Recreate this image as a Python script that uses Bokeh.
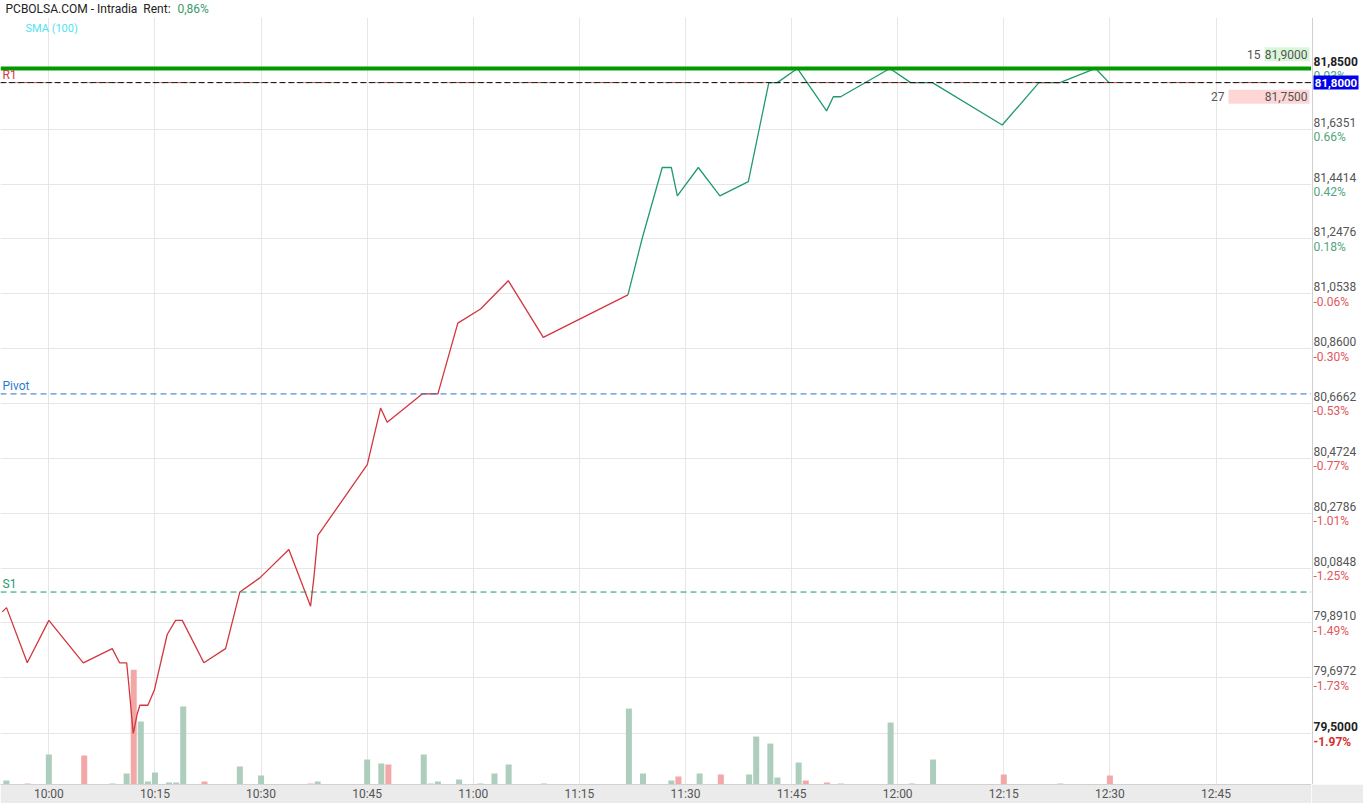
import pandas as pd
from bokeh.plotting import figure
from bokeh.layouts import column, row
from bokeh.models import (Range1d, FixedTicker, DatetimeTickFormatter, Label, Span,
                          BoxAnnotation, ColumnDataSource)
from bokeh.embed import file_html
from bokeh.resources import INLINE

DAY = "2024-01-15 "

# ---------------- data ----------------
price_times = ["09:53:25", "09:54:01", "09:56:57", "10:00:00", "10:04:52", "10:08:58", "10:10:00",
               "10:11:00", "10:11:19", "10:11:47", "10:11:56", "10:12:30", "10:12:52", "10:14:00",
               "10:14:56", "10:16:44", "10:17:55", "10:18:52", "10:21:55", "10:24:59", "10:27:00",
               "10:29:50", "10:33:56", "10:37:00", "10:37:28", "10:38:02", "10:45:01", "10:46:54",
               "10:47:50", "10:52:47", "10:55:00", "10:57:49", "11:01:02", "11:04:57", "11:09:54",
               "11:21:52",
               "11:23:53", "11:26:43", "11:28:00", "11:28:51", "11:31:49", "11:34:52", "11:38:53",
               "11:41:47", "11:42:59", "11:45:49", "11:49:57", "11:50:54", "11:51:56", "11:58:54",
               "12:01:50", "12:04:54", "12:14:47", "12:19:58", "12:22:56", "12:27:59", "12:29:52"]
price_values = [79.93, 79.945, 79.75, 79.90, 79.75, 79.80, 79.75,
                79.75, 79.67, 79.54, 79.50, 79.57, 79.60, 79.60,
                79.655, 79.85, 79.90, 79.90, 79.75, 79.80, 80.00,
                80.05, 80.15, 79.95, 80.05, 80.20, 80.45, 80.65,
                80.60, 80.70, 80.70, 80.95, 81.00, 81.10, 80.90,
                81.05,
                81.25, 81.50, 81.50, 81.40, 81.50, 81.40, 81.45,
                81.80, 81.80, 81.85, 81.70, 81.75, 81.75, 81.85,
                81.80, 81.80, 81.65, 81.80, 81.80, 81.85, 81.80]
split_index = 35  # last point of the red (below previous close) stretch

vol_times = ["09:54", "09:57", "10:00", "10:05", "10:09", "10:11", "10:12", "10:13", "10:14", "10:15",
             "10:17", "10:18", "10:19", "10:22", "10:27", "10:30", "10:37", "10:38", "10:45", "10:47",
             "10:48", "10:53", "10:54", "10:55", "10:58", "11:01", "11:03", "11:05", "11:10", "11:22",
             "11:24", "11:28", "11:29", "11:32", "11:35", "11:39", "11:40", "11:42", "11:43", "11:46",
             "11:47", "11:50", "11:52", "11:59", "12:02", "12:05", "12:15", "12:23", "12:30"]
vol_values = [80, 20, 600, 580, 20, 220, 2300, 1260, 60, 240,
              40, 40, 1560, 60, 360, 180, 20, 60, 500, 420,
              400, 600, 20, 60, 100, 20, 220, 400, 20, 1520,
              220, 80, 160, 220, 200, 200, 960, 820, 140, 440,
              80, 40, 20, 1240, 20, 500, 200, 20, 180]
vol_up = [1, 0, 1, 0, 1, 1, 0, 1, 1, 1,
          1, 1, 1, 0, 1, 1, 0, 1, 1, 1,
          0, 1, 1, 1, 1, 1, 1, 1, 0, 1,
          1, 1, 0, 1, 0, 1, 1, 1, 1, 1,
          0, 0, 1, 1, 0, 1, 0, 1, 0]

prev_close = 81.10
day_high = 81.85
last_price = 81.80
last_label = "81,8000"
r1_level = 81.80
pivot_level = 80.70
s1_level = 80.00
ask_price, ask_qty, ask_label = 81.90, 15, "81,9000"
bid_price, bid_qty, bid_label = 81.75, 27, "81,7500"

tick_prices = [79.5, 79.6972, 79.891, 80.0848, 80.2786, 80.4724, 80.6662,
               80.86, 81.0538, 81.2476, 81.4414, 81.6351, 81.85]
tick_price_labels = ["79,5000", "79,6972", "79,8910", "80,0848", "80,2786", "80,4724", "80,6662",
                     "80,8600", "81,0538", "81,2476", "81,4414", "81,6351", "81,8500"]
tick_pct_labels = ["-1.97%", "-1.73%", "-1.49%", "-1.25%", "-1.01%", "-0.77%", "-0.53%",
                   "-0.30%", "-0.06%", "0.18%", "0.42%", "0.66%", "0.93%"]
x_tick_labels = ["10:00", "10:15", "10:30", "10:45", "11:00", "11:15",
                 "11:30", "11:45", "12:00", "12:15", "12:30", "12:45"]


def to_ms(t):
    return pd.Timestamp(DAY + t).value / 1e6


# ---------------- layout ----------------
TOTAL_W, TOTAL_H = 1363, 803
HEAD_H = 17
AXIS_W = 52
BAND_H = 18
MAIN_W = TOTAL_W - AXIS_W
MAIN_H = TOTAL_H - HEAD_H
FRAME_H = MAIN_H - BAND_H

x_start, x_end = to_ms("09:53:10"), to_ms("12:58:30")
y_range = Range1d(79.32, 82.03)
ms_per_px = (x_end - x_start) / MAIN_W
pr_per_px = (y_range.end - y_range.start) / FRAME_H

FONT = "Roboto"
RED = "#d3363d"
GREEN = "#1f9a6e"
GRID = "#e6e6e6"
BAND = "#ebebeb"

# ---------- main chart ----------
p = figure(width=MAIN_W, height=MAIN_H, x_axis_type="datetime",
           x_range=Range1d(x_start, x_end), y_range=y_range,
           output_backend="svg", toolbar_location=None,
           y_axis_location="right",
           min_border_left=0, min_border_right=0,
           min_border_top=0, min_border_bottom=BAND_H)
p.outline_line_color = None
p.background_fill_color = "white"
p.border_fill_color = BAND
p.yaxis.visible = False

p.xgrid.ticker = FixedTicker(ticks=[to_ms(t) for t in x_tick_labels])
p.ygrid.ticker = FixedTicker(ticks=tick_prices)
p.xgrid.grid_line_color = GRID
p.ygrid.grid_line_color = GRID

xa = p.xaxis[0]
xa.ticker = FixedTicker(ticks=[to_ms(t) for t in x_tick_labels])
xa.formatter = DatetimeTickFormatter(minutes="%H:%M", hourmin="%H:%M", hours="%H:%M",
                                     minsec="%H:%M", seconds="%H:%M", days="%H:%M")
xa.axis_line_color = "#d2d2d2"
xa.major_tick_out = 0
xa.major_tick_in = 0
xa.minor_tick_out = 0
xa.minor_tick_in = 0
xa.major_label_text_color = "#555555"
xa.major_label_text_font = FONT
xa.major_label_text_font_size = "12px"
xa.major_label_standoff = 2

# volume on its own scale
p.extra_y_ranges = {"vol": Range1d(0, 20 * 768)}
vsrc = ColumnDataSource(dict(
    x=[pd.Timestamp(DAY + t) for t in vol_times],
    top=vol_values,
    color=["#adcdbd" if u else "#f3a8a8" for u in vol_up],
))
p.vbar(x="x", top="top", bottom=0, width=51000, color="color", source=vsrc,
       y_range_name="vol", line_color=None)

# price line
times_dt = [pd.Timestamp(DAY + t) for t in price_times]
p.line(times_dt[:split_index + 1], price_values[:split_index + 1], line_color=RED, line_width=1.3)
p.line(times_dt[split_index:], price_values[split_index:], line_color=GREEN, line_width=1.3)

# reference levels
p.add_layout(Span(location=s1_level, dimension="width", line_color="#139a66",
                  line_dash="6 4", line_width=1))
p.add_layout(Span(location=pivot_level, dimension="width", line_color="#2b6fc9",
                  line_dash="6 4", line_width=1))
p.add_layout(Span(location=r1_level, dimension="width", line_color="#d9363e",
                  line_dash="4 4", line_width=1))
p.add_layout(Span(location=last_price, dimension="width", line_color="#111111",
                  line_dash="6 3", line_width=1))
p.add_layout(Span(location=day_high, dimension="width", line_color="#009900", line_width=4))

for txt, lvl, col in [("R1", r1_level, "#d9363e"), ("Pivot", pivot_level, "#2f7ad0"),
                      ("S1", s1_level, "#1f9a6e")]:
    p.add_layout(Label(x=x_start, y=lvl, x_offset=2, y_offset=8, text=txt, text_color=col,
                       text_font=FONT, text_font_size="12px", text_align="left",
                       text_baseline="middle"))

# order book boxes
for price, qty, lab, fill in [(ask_price, ask_qty, ask_label, "#d9f6d9"),
                              (bid_price, bid_qty, bid_label, "#fdd6d6")]:
    wpx = qty * 3.0
    p.add_layout(BoxAnnotation(left=x_end - (wpx + 2) * ms_per_px, right=x_end - 2 * ms_per_px,
                               bottom=price - 7 * pr_per_px, top=price + 7 * pr_per_px,
                               fill_color=fill, fill_alpha=1.0, line_color=None))
    p.add_layout(Label(x=x_end, y=price, x_offset=-4, text=lab, text_color="#555555",
                       text_font=FONT, text_font_size="12px", text_align="right",
                       text_baseline="middle"))
    p.add_layout(Label(x=x_end, y=price, x_offset=-(wpx + 6), text=str(qty), text_color="#555555",
                       text_font=FONT, text_font_size="12px", text_align="right",
                       text_baseline="middle"))

p.add_layout(Label(x=x_start, y=y_range.end, x_offset=25, y_offset=-11, text="SMA (100)",
                   text_color="#4fe3f0", text_font=FONT, text_font_size="11px",
                   text_align="left", text_baseline="middle"))

# ---------- right price scale ----------
r = figure(width=AXIS_W, height=MAIN_H, x_range=Range1d(-1, AXIS_W - 1), y_range=y_range,
           output_backend="svg", toolbar_location=None,
           x_axis_location=None, y_axis_location=None,
           min_border_left=0, min_border_right=0, min_border_top=0, min_border_bottom=BAND_H)
r.outline_line_color = None
r.grid.visible = False
r.background_fill_color = "white"
r.border_fill_color = BAND
r.add_layout(Span(location=0, dimension="height", line_color="#d0d0d0", line_width=1))

n = len(tick_prices)
for i, (tv, pl, pc) in enumerate(zip(tick_prices, tick_price_labels, tick_pct_labels)):
    extreme = (i == 0 or i == n - 1)
    pct_col = "#4fa57c" if not pc.startswith("-") else "#e0575d"
    if i == 0:
        pct_col = "#d32f2f"
    r.add_layout(Label(x=1, y=tv, x_offset=0, y_offset=7, text=pl,
                       text_color="#222222" if extreme else "#555555",
                       text_font=FONT, text_font_size="12px",
                       text_font_style="bold" if extreme else "normal",
                       text_align="left", text_baseline="middle"))
    r.add_layout(Label(x=1, y=tv, x_offset=0, y_offset=-8, text=pc, text_color=pct_col,
                       text_font=FONT, text_font_size="12px",
                       text_font_style="bold" if i == 0 else "normal",
                       text_align="left", text_baseline="middle"))

# last price tag
r.add_layout(BoxAnnotation(left=1, right=46, bottom=last_price - 7 * pr_per_px,
                           top=last_price + 7 * pr_per_px, fill_color="#0000ee",
                           fill_alpha=1.0, line_color=None))
r.add_layout(Label(x=23.5, y=last_price, text=last_label, text_color="white",
                   text_font=FONT, text_font_size="11.5px", text_font_style="bold",
                   text_align="center", text_baseline="middle"))

# ---------- header ----------
h = figure(width=TOTAL_W, height=HEAD_H, x_range=Range1d(0, TOTAL_W), y_range=Range1d(0, HEAD_H),
           output_backend="svg", toolbar_location=None,
           x_axis_location=None, y_axis_location=None,
           min_border_left=0, min_border_right=0, min_border_top=0, min_border_bottom=0)
h.outline_line_color = None
h.grid.visible = False
h.background_fill_color = "white"
h.border_fill_color = "white"
h.add_layout(Label(x=5, y=HEAD_H - 8, text="PCBOLSA.COM - Intradia\u00a0\u00a0Rent:",
                   text_color="#222222", text_font=FONT, text_font_size="12px",
                   text_font_style="normal", text_align="left", text_baseline="middle"))
rent = (last_price / prev_close - 1) * 100
h.add_layout(Label(x=177, y=HEAD_H - 8, text=f"{rent:.2f}%".replace(".", ","),
                   text_color="#3a9a6a", text_font=FONT, text_font_size="12px",
                   text_align="left", text_baseline="middle"))

layout = column(h, row(p, r, spacing=0), spacing=0)
open("out.html", "w").write(file_html(layout, INLINE))
